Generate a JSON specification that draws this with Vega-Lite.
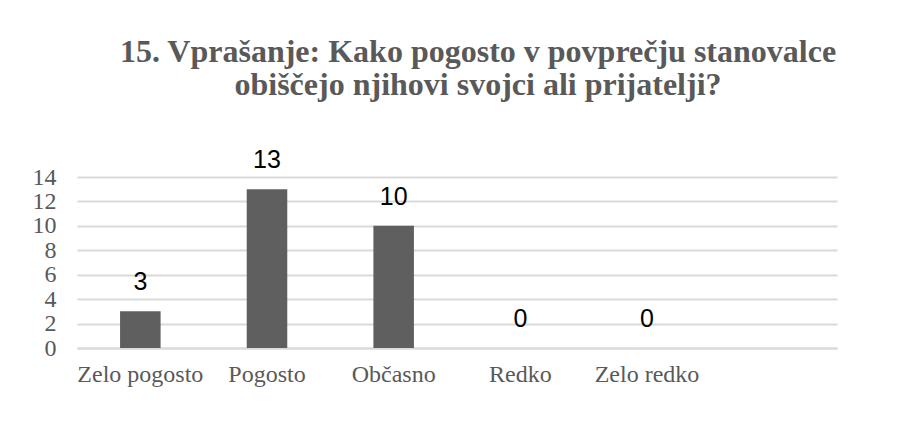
{
  "$schema": "https://vega.github.io/schema/vega-lite/v6.json",
  "width": 760,
  "height": 171,
  "autosize": {"type": "none"},
  "padding": {"left": 77, "top": 177, "right": 79, "bottom": 86},
  "background": "white",
  "title": {
    "text": ["15. Vprašanje: Kako pogosto v povprečju stanovalce", "obiščejo njihovi svojci ali prijatelji?"],
    "font": "Liberation Serif",
    "fontSize": 32,
    "fontWeight": "bold",
    "color": "#595959",
    "lineHeight": 33,
    "anchor": "middle",
    "frame": "group",
    "dx": 21,
    "offset": 46
  },
  "data": {
    "values": [
      {"odgovor": "Zelo pogosto", "stevilo": 3},
      {"odgovor": "Pogosto", "stevilo": 13},
      {"odgovor": "Občasno", "stevilo": 10},
      {"odgovor": "Redko", "stevilo": 0},
      {"odgovor": "Zelo redko", "stevilo": 0}
    ]
  },
  "encoding": {
    "x": {
      "field": "odgovor",
      "type": "nominal",
      "sort": null,
      "scale": {"domain": ["Zelo pogosto", "Pogosto", "Občasno", "Redko", "Zelo redko", " "], "paddingInner": 0.68, "paddingOuter": 0.34},
      "axis": {
        "title": null,
        "labelAngle": 0,
        "ticks": false,
        "domain": true,
        "domainColor": "#d9d9d9",
        "domainWidth": 2,
        "labelFont": "Liberation Serif",
        "labelFontSize": 24,
        "labelColor": "#595959",
        "labelPadding": 14,
        "grid": false
      }
    },
    "y": {
      "field": "stevilo",
      "type": "quantitative",
      "scale": {"domain": [0, 14], "nice": false},
      "axis": {
        "title": null,
        "values": [0, 2, 4, 6, 8, 10, 12, 14],
        "ticks": false,
        "domain": false,
        "grid": true,
        "gridColor": "#d9d9d9",
        "gridWidth": 2,
        "labelFont": "Liberation Serif",
        "labelFontSize": 24,
        "labelColor": "#595959",
        "labelPadding": 21
      }
    }
  },
  "layer": [
    {"mark": {"type": "bar", "color": "#5f5f5f"}},
    {
      "mark": {"type": "text", "baseline": "alphabetic", "dy": -21, "font": "Liberation Sans", "fontSize": 25, "color": "#000000"},
      "encoding": {"text": {"field": "stevilo", "type": "quantitative"}}
    }
  ],
  "config": {"view": {"stroke": null}}
}
